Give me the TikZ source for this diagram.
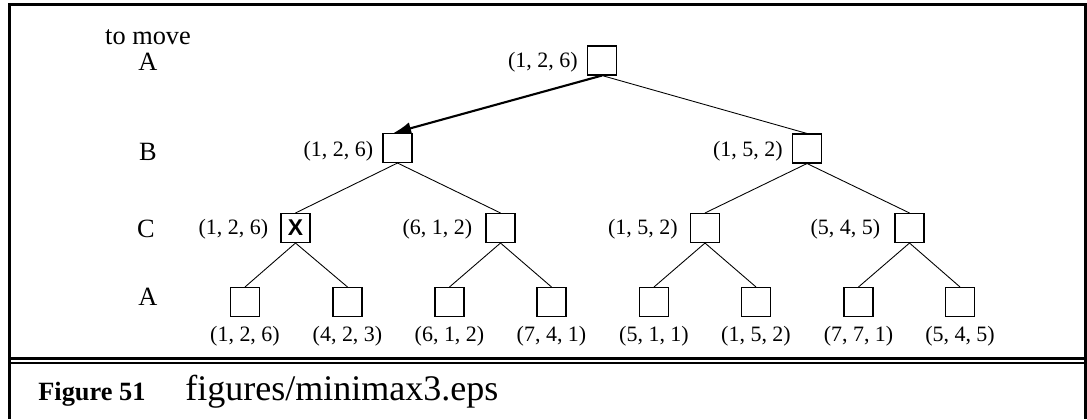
\documentclass[tikz,border=0pt]{standalone}
\usepackage{fontspec}
\setmainfont{Liberation Serif}
\newfontfamily\xfont{Liberation Sans}
\usetikzlibrary{arrows.meta,calc,positioning}

\tikzset{
  tbox/.style={draw, line width=0.6pt, minimum size=0.58cm, inner sep=0pt, fill=white},
  tup/.style={font=\fontsize{12.5}{14}\selectfont, inner sep=0pt},
  lvl/.style={font=\fontsize{15}{17}\selectfont, inner sep=0pt},
  edge/.style={line width=0.5pt},
  frame/.style={line width=1.4pt},
}

\begin{document}
\begin{tikzpicture}[x=0.02cm,y=-0.02cm]
      \useasboundingbox (0,0) rectangle (1087,419);
      % Frame and caption rule
      \draw[frame] (9.5,419) -- (9.5,4.5) -- (1085.5,4.5) -- (1085.5,419);
      \draw[frame] (9.5,358.5) -- (1085.5,358.5);
      \draw[frame] (9.5,363) -- (1085.5,363);
      % Level labels
      \node[lvl] (tomove) at (148,37) {to move};
      \node[lvl] (levA) at (148,62) {A};
      \node[lvl] (levB) at (148,152) {B};
      \node[lvl] (levC) at (146,229) {C};
      \node[lvl] (levD) at (148,297) {A};
      % Root and second level
      \node[tbox] (root) at (602,60.5) {};
      \node[tbox] (b1) at (397.5,148) {};
      \node[tbox] (b2) at (807,148.5) {};
      % Third level
      \node[tbox, font=\xfont\bfseries\fontsize{13}{14}\selectfont] (c1) at (295.5,228) {X};
      \node[tbox] (c2) at (500.5,228) {};
      \node[tbox] (c3) at (705,228) {};
      \node[tbox] (c4) at (909.5,228) {};
      % Leaves
      \foreach \i/\xx in {1/245,2/347.5,3/449.5,4/551.5,5/654,6/756,7/858.5,8/960}
        \node[tbox] (l\i) at (\xx,302) {};
      % Values of inner nodes
      \node[tup, anchor=east] (vroot) at ($(root.west)+(-9,2)$) {(1, 2, 6)};
      \node[tup, anchor=east] (vb1) at ($(b1.west)+(-9,3)$) {(1, 2, 6)};
      \node[tup, anchor=east] (vb2) at ($(b2.west)+(-9,3)$) {(1, 5, 2)};
      \node[tup, anchor=east] (vc1) at ($(c1.west)+(-12,1)$) {(1, 2, 6)};
      \node[tup, anchor=east] (vc2) at ($(c2.west)+(-13,1)$) {(6, 1, 2)};
      \node[tup, anchor=east] (vc3) at ($(c3.west)+(-12,1)$) {(1, 5, 2)};
      \node[tup, anchor=east] (vc4) at ($(c4.west)+(-14,1)$) {(5, 4, 5)};
      % Values of leaves
      \foreach \i/\v in {1/{(1, 2, 6)},2/{(4, 2, 3)},3/{(6, 1, 2)},4/{(7, 4, 1)},
                         5/{(5, 1, 1)},6/{(1, 5, 2)},7/{(7, 7, 1)},8/{(5, 4, 5)}}
        \node[tup] (v\i) at ($(l\i.south)+(0,19)$) {\v};
      % Edges
      \draw[edge] (root.south) -- (b2.north);
      \draw[edge] (b1.south) -- (c1.north);
      \draw[edge] (b1.south) -- (c2.north);
      \draw[edge] (b2.south) -- (c3.north);
      \draw[edge] (b2.south) -- (c4.north);
      \draw[edge] (c1.south) -- (l1.north);
      \draw[edge] (c1.south) -- (l2.north);
      \draw[edge] (c2.south) -- (l3.north);
      \draw[edge] (c2.south) -- (l4.north);
      \draw[edge] (c3.south) -- (l5.north);
      \draw[edge] (c3.south) -- (l6.north);
      \draw[edge] (c4.south) -- (l7.north);
      \draw[edge] (c4.south) -- (l8.north);
      % Chosen move
      \draw[line width=1.2pt, -{Latex[length=10pt,width=7pt]}] (root.south) -- ($(b1.north)+(-4,0)$);
      % Caption
      \node[anchor=base west, inner sep=0pt, font=\bfseries\fontsize{15}{17}\selectfont] (fignum) at (38,400) {Figure 51};
      \node[anchor=base west, inner sep=0pt, font=\fontsize{20.5}{22}\selectfont] (figname) at (185,400) {figures/minimax3.eps};
\end{tikzpicture}
\end{document}
